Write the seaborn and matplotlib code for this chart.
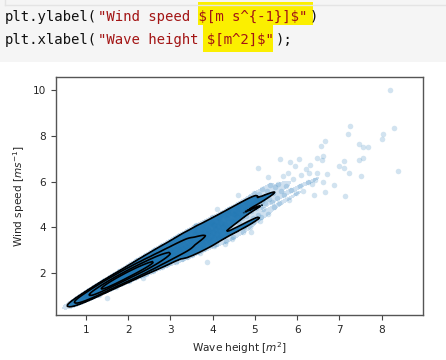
import matplotlib
matplotlib.use("Agg")
import matplotlib.pyplot as plt
from matplotlib.colors import ListedColormap
import seaborn as sns
import numpy as np
import pandas as pd
from matplotlib.patches import Rectangle
from matplotlib.lines import Line2D

# ---- data (wave height [m^2], wind speed [m s^-1]) ----
wave_height = [
    0.85, 0.90, 0.95, 0.98, 1.02, 1.05, 1.08, 1.10, 1.12, 1.15, 1.18, 1.20,
    1.22, 1.25, 1.28, 1.30, 1.32, 1.35, 1.36, 1.38, 1.40, 1.42, 1.44, 1.46, 1.48, 1.50, 1.50, 1.52, 1.54, 1.55, 1.57, 1.58, 1.49, 1.60,
    1.61, 1.62, 1.63, 1.65, 1.66, 1.67, 1.68, 1.70, 1.70, 1.72, 1.73, 1.74, 1.75, 1.76, 1.78, 1.78, 1.80, 1.81, 1.82, 1.84, 1.85, 1.86, 1.87, 1.88, 1.90, 1.90, 1.92, 1.93, 1.95, 1.96, 1.97, 1.98, 2.00,
    2.01, 2.02, 2.03, 2.05, 2.06, 2.07, 2.08, 2.10, 2.10, 2.12, 2.13, 2.14, 2.15, 2.16, 2.18, 2.19, 2.20, 2.21, 2.22, 2.23, 2.25, 2.25, 2.26, 2.28, 2.29, 2.30, 2.31, 2.32, 2.33, 2.35, 2.36, 2.37, 2.38, 2.40, 2.41, 2.42, 2.44, 2.45, 2.46, 2.47, 2.48, 2.49, 2.20, 2.35,
    2.50, 2.51, 2.52, 2.54, 2.55, 2.56, 2.58, 2.59, 2.60, 2.62, 2.63, 2.64, 2.66, 2.67, 2.68, 2.70, 2.71, 2.72, 2.74, 2.75, 2.76, 2.78, 2.79, 2.80, 2.82, 2.83, 2.85, 2.86, 2.88, 2.89, 2.90, 2.92, 2.93, 2.95, 2.97, 2.98, 2.60, 2.90,
    3.00, 3.02, 3.04, 3.05, 3.07, 3.08, 3.10, 3.12, 3.13, 3.15, 3.17, 3.18, 3.20, 3.22, 3.23, 3.25, 3.27, 3.28, 3.30, 3.32, 3.33, 3.35, 3.37, 3.38, 3.40, 3.42, 3.44, 3.45, 3.47, 3.48, 3.10, 3.40,
    3.50, 3.52, 3.54, 3.55, 3.57, 3.60, 3.62, 3.63, 3.65, 3.67, 3.70, 3.72, 3.73, 3.75, 3.77, 3.78, 3.80, 3.82, 3.84, 3.85, 3.87, 3.88, 3.90, 3.92, 3.94, 3.95, 3.97, 3.86, 3.60, 3.70,
    4.00, 4.02, 4.04, 4.06, 4.08, 4.10, 4.12, 4.15, 4.17, 4.20, 4.22, 4.25, 4.27, 4.30, 4.32, 4.35, 4.37, 4.40, 4.42, 4.45, 4.47, 4.30, 4.10, 4.45,
    4.50, 4.53, 4.55, 4.58, 4.60, 4.63, 4.65, 4.68, 4.70, 4.73, 4.75, 4.78, 4.80, 4.83, 4.85, 4.88, 4.90, 4.93, 4.96, 4.98, 4.60, 4.90,
    5.02, 5.05, 5.08, 5.10, 5.13, 5.16, 5.20, 5.22, 5.25, 5.28, 5.30, 5.33, 5.36, 5.40, 5.43, 5.46, 5.48, 5.08, 5.30,
    5.52, 5.55, 5.58, 5.60, 5.62, 5.66, 5.70, 5.74, 5.78, 5.80, 5.83, 5.86, 5.90, 5.95, 5.97,
    6.04, 6.06, 6.10, 6.15, 6.20, 6.25, 6.28, 6.31, 6.35, 6.40, 6.43, 6.47, 6.48,
    6.56, 6.59, 6.62, 6.62, 6.66, 6.67, 6.70, 6.88, 6.98,
    7.12, 7.12, 7.13, 7.21, 7.23, 7.26, 7.47, 7.47,
    7.52, 7.56, 7.57, 7.67, 8.01, 8.03, 8.20, 8.30, 8.38,
]
wind_speed = [
    0.92, 0.98, 0.95, 1.08, 1.00, 1.15, 0.98, 1.20, 1.05, 1.10, 1.25, 1.02,
    1.18, 1.30, 1.22, 1.40, 1.28, 1.35, 1.50, 1.25, 1.42, 1.33, 1.55, 1.40, 1.47, 1.38, 1.60, 1.50, 1.42, 1.68, 1.55, 1.45, 0.91, 1.62,
    1.50, 1.72, 1.62, 1.55, 1.80, 1.66, 1.60, 1.75, 1.68, 1.58, 1.85, 1.72, 1.66, 1.78, 1.70, 1.92, 1.82, 1.65, 1.76, 1.88, 1.80, 1.72, 2.00, 1.84, 1.90, 1.76, 1.95, 1.82, 1.88, 2.05, 1.78, 1.93, 1.98,
    1.85, 2.10, 1.96, 2.02, 1.90, 2.18, 2.05, 1.95, 2.12, 2.00, 2.25, 2.08, 1.92, 2.15, 2.05, 2.30, 2.12, 1.98, 2.20, 2.08, 2.35, 2.15, 2.00, 2.22, 2.12, 2.40, 2.18, 2.05, 2.28, 2.20, 2.45, 2.12, 2.32, 2.25, 2.10, 2.38, 2.28, 2.52, 2.20, 2.35, 2.42, 2.15, 2.60, 1.80,
    2.30, 2.50, 2.40, 2.60, 2.35, 2.48, 2.55, 2.28, 2.68, 2.50, 2.42, 2.62, 2.55, 2.78, 2.45, 2.65, 2.58, 2.38, 2.72, 2.60, 2.85, 2.68, 2.50, 2.75, 2.62, 2.92, 2.70, 2.55, 2.82, 2.68, 3.00, 2.75, 2.60, 2.88, 2.72, 3.08, 3.00, 2.35,
    2.85, 3.05, 2.70, 2.95, 3.15, 2.82, 3.00, 3.25, 2.90, 3.10, 2.75, 3.20, 3.02, 3.35, 2.95, 3.15, 3.40, 3.05, 2.85, 3.28, 3.12, 3.50, 3.20, 2.98, 3.35, 3.10, 3.55, 3.25, 3.00, 3.42, 3.55, 2.70,
    3.30, 3.55, 3.15, 3.40, 3.70, 3.25, 3.50, 3.85, 3.35, 3.60, 3.10, 3.75, 3.45, 3.95, 3.55, 3.30, 3.80, 3.60, 4.05, 3.40, 3.70, 3.95, 3.50, 3.85, 3.25, 4.15, 3.65, 2.50, 4.10, 2.90,
    3.80, 4.10, 3.55, 3.95, 4.30, 3.70, 4.05, 4.45, 3.85, 4.20, 3.60, 4.00, 4.55, 4.15, 3.90, 4.40, 4.70, 4.05, 3.75, 4.30, 4.60, 3.30, 4.80, 3.50,
    4.25, 4.60, 3.95, 4.45, 4.85, 4.20, 4.65, 5.05, 4.40, 4.00, 4.75, 5.20, 4.50, 4.90, 4.25, 5.35, 4.70, 5.00, 4.40, 5.50, 5.40, 3.80,
    4.85, 5.20, 4.55, 5.45, 5.00, 5.70, 4.80, 5.30, 5.05, 5.60, 4.60, 5.25, 5.85, 5.10, 5.50, 4.90, 5.75, 6.61, 6.20,
    5.30, 5.90, 5.05, 6.98, 5.60, 6.25, 5.40, 5.80, 6.40, 5.20, 6.87, 5.65, 6.10, 6.69, 5.50,
    6.98, 5.80, 6.30, 5.60, 6.55, 6.00, 6.39, 6.73, 5.90, 5.42, 6.07, 6.37, 7.02,
    7.56, 6.95, 7.12, 6.00, 5.56, 7.79, 6.34, 5.86, 6.69,
    6.90, 6.59, 5.39, 8.08, 6.39, 8.43, 7.65, 6.95,
    6.25, 7.02, 7.50, 7.50, 7.85, 8.08, 10.00, 8.33, 6.47,
]

# dense core of the cloud (where the points overlap into solid blue)
core_wave_height = [
    1.03, 1.06, 1.09, 1.13, 1.16, 1.19, 1.21, 1.24,
    1.26, 1.27, 1.29, 1.31, 1.33, 1.34, 1.36, 1.37, 1.39, 1.41, 1.42, 1.43, 1.44, 1.45, 1.46, 1.47, 1.48, 1.49, 1.50, 1.50,
    1.51, 1.52, 1.53, 1.54, 1.55, 1.56, 1.57, 1.58, 1.59, 1.60, 1.61, 1.62, 1.63, 1.64, 1.65, 1.66, 1.67, 1.67, 1.68, 1.69, 1.70, 1.71, 1.71, 1.72, 1.73, 1.73, 1.74, 1.74, 1.75, 1.75,
    1.76, 1.77, 1.77, 1.78, 1.79, 1.80, 1.80, 1.81, 1.82, 1.83, 1.83, 1.84, 1.85, 1.86, 1.86, 1.87, 1.88, 1.89, 1.90, 1.90, 1.91, 1.92, 1.93, 1.94, 1.95, 1.95, 1.96, 1.97, 1.98, 1.99,
    2.00, 2.01, 2.02, 2.03, 2.04, 2.05, 2.06, 2.07, 2.08, 2.09, 2.10, 2.11, 2.12, 2.13, 2.14, 2.15, 2.16, 2.17, 2.18, 2.18, 2.19, 2.20, 2.21, 2.21, 2.22, 2.23, 2.23, 2.24, 2.24, 2.25,
    2.26, 2.27, 2.27, 2.28, 2.29, 2.30, 2.31, 2.32, 2.33, 2.34, 2.35, 2.36, 2.37, 2.38, 2.39, 2.40, 2.41, 2.42, 2.43, 2.44, 2.45, 2.46, 2.46, 2.47, 2.48, 2.49, 2.49, 2.50,
    2.51, 2.53, 2.54, 2.56, 2.57, 2.58, 2.60, 2.61, 2.62, 2.63, 2.65, 2.66, 2.67, 2.68, 2.69, 2.70, 2.72, 2.73, 2.74, 2.75,
    2.77, 2.79, 2.80, 2.82, 2.84, 2.87, 2.90, 2.92, 2.95, 2.98,
]
core_wind_speed = [
    1.05, 0.97, 1.12, 1.00, 1.17, 1.08, 1.28, 1.15,
    1.20, 1.33, 1.27, 1.18, 1.36, 1.30, 1.24, 1.41, 1.32, 1.27, 1.45, 1.38, 1.30, 1.48, 1.35, 1.50, 1.42, 1.33, 1.52, 1.44,
    1.40, 1.55, 1.47, 1.60, 1.50, 1.43, 1.62, 1.53, 1.48, 1.68, 1.57, 1.50, 1.70, 1.60, 1.64, 1.52, 1.73, 1.62, 1.56, 1.78, 1.64, 1.70, 1.55, 1.80, 1.66, 1.60, 1.75, 1.68, 1.83, 1.60,
    1.70, 1.86, 1.76, 1.64, 1.80, 1.74, 1.90, 1.78, 1.68, 1.84, 1.95, 1.76, 1.70, 1.88, 1.82, 1.75, 1.96, 1.86, 1.80, 2.02, 1.88, 1.74, 1.92, 1.85, 2.00, 1.80, 1.90, 2.08, 1.86, 1.95,
    2.05, 1.92, 2.00, 2.12, 1.95, 2.06, 2.16, 1.98, 2.10, 1.93, 2.20, 2.05, 2.14, 1.98, 2.22, 2.10, 2.02, 2.18, 2.26, 2.10, 2.00, 2.17, 2.30, 2.08, 2.15, 2.24, 2.02, 2.18, 2.33, 2.10,
    2.20, 2.35, 2.12, 2.28, 2.05, 2.22, 2.40, 2.15, 2.30, 2.24, 2.12, 2.36, 2.28, 2.20, 2.45, 2.32, 2.16, 2.30, 2.42, 2.22, 2.36, 2.50, 2.28, 2.18, 2.40, 2.33, 2.55, 2.25,
    2.42, 2.55, 2.35, 2.62, 2.46, 2.40, 2.58, 2.72, 2.45, 2.55, 2.38, 2.68, 2.60, 2.50, 2.80, 2.58, 2.66, 2.48, 2.76, 2.62,
    2.70, 2.85, 2.60, 2.78, 2.68, 2.90, 2.72, 2.85, 2.65, 2.95,
]

# points along the lower and upper flanks of the cloud
fringe_wave_height = [
    1.31, 1.48, 1.72, 1.88, 2.03, 2.17, 2.42, 2.58, 2.81, 2.97, 3.12, 3.28, 3.52, 3.61, 3.79, 4.02, 4.09, 4.31, 4.48, 4.72, 4.88, 5.11,
    1.19, 1.41, 1.62, 1.79, 2.01, 2.22, 2.39, 2.61, 2.78, 3.02, 3.19, 3.41, 3.58, 3.82, 3.98, 4.21, 4.39, 4.62, 4.79, 5.02, 5.19,
    1.62, 1.84, 2.06, 2.29, 2.56, 2.74, 2.96, 3.14, 3.36, 3.54, 3.76, 3.94, 4.16, 4.34, 4.56, 4.74, 4.96, 5.14,
    1.56, 1.74, 1.96, 2.14, 2.36, 2.54, 2.76, 2.94, 3.16, 3.34, 3.56, 3.74, 3.96, 4.14, 4.36, 4.54, 4.76, 4.94, 5.16,
]
fringe_wind_speed = [
    1.05, 1.25, 1.42, 1.60, 1.68, 1.82, 1.98, 2.12, 2.28, 2.45, 2.50, 2.62, 2.80, 2.92, 3.05, 3.20, 3.30, 3.42, 3.60, 3.80, 4.00, 4.30,
    1.42, 1.65, 1.88, 2.10, 2.32, 2.52, 2.75, 2.95, 3.20, 3.42, 3.62, 3.85, 4.05, 4.25, 4.45, 4.62, 4.80, 4.95, 5.10, 5.20, 5.30,
    1.45, 1.65, 1.80, 1.98, 2.22, 2.40, 2.55, 2.72, 2.90, 3.05, 3.20, 3.38, 3.55, 3.70, 3.88, 4.05, 4.25, 4.45,
    1.72, 1.95, 2.18, 2.38, 2.58, 2.80, 3.02, 3.22, 3.42, 3.62, 3.85, 4.05, 4.25, 4.40, 4.58, 4.75, 4.92, 5.05, 5.15,
]

x_ticks = [1, 2, 3, 4, 5, 6, 7, 8]
y_ticks = [2, 4, 6, 8, 10]

df = pd.DataFrame({"wave": wave_height + core_wave_height + fringe_wave_height,
                   "wind": wind_speed + core_wind_speed + fringe_wind_speed})

W, H = 446, 360
fig = plt.figure(figsize=(W / 100, H / 100), dpi=100)
fig.patch.set_facecolor("white")

# ---- notebook code cell header ----
fig.patches.append(Rectangle((0, 1 - 62 / H), 1, 62 / H, transform=fig.transFigure,
                             facecolor="#f5f5f5", edgecolor="none", zorder=0))
fig.lines.append(Line2D([5 / W, 1], [1 - 5 / H, 1 - 5 / H], transform=fig.transFigure,
                        color="#e4e4e4", lw=1))
fig.lines.append(Line2D([5 / W, 5 / W], [1, 1 - 5 / H], transform=fig.transFigure,
                        color="#e4e4e4", lw=1))
fig.patches.append(Rectangle((198 / W, 1 - 25 / H), 115 / W, 23.5 / H, transform=fig.transFigure,
                             facecolor="#fbef00", edgecolor="none", zorder=1))
fig.patches.append(Rectangle((203 / W, 1 - 52 / H), 70 / W, 27 / H, transform=fig.transFigure,
                             facecolor="#fbef00", edgecolor="none", zorder=1))

cw = 8.47
mono = dict(family="DejaVu Sans Mono", fontsize=10.1, va="center", ha="left", parse_math=False)
def code(line_y, segments):
    i = 0
    for txt, col in segments:
        fig.text((5 + i * cw) / W, 1 - line_y / H, txt, color=col, **mono)
        i += len(txt)

red = "#a31515"
code(17, [("plt.ylabel(", "#111111"), ('"Wind speed $[m s^{-1}]$"', red), (")", "#111111")])
code(40, [("plt.xlabel(", "#111111"), ('"Wave height $[m^2]$"', red), (");", "#111111")])

# ---- chart ----
ax = fig.add_axes([56 / W, 45 / H, 367 / W, 238 / H])
blue = "#1f77b4"
bw = 0.62
outer = 0.2

sns.kdeplot(data=df, x="wave", y="wind", ax=ax, fill=True, levels=[0.12, outer],
            cmap=ListedColormap(["#bcd5ea"]), alpha=0.7, bw_adjust=bw)
sns.kdeplot(data=df, x="wave", y="wind", ax=ax, fill=True, levels=[outer, 1.0],
            cmap=ListedColormap([blue]), alpha=0.95, bw_adjust=bw)
sns.scatterplot(data=df, x="wave", y="wind", ax=ax, s=16, alpha=0.2, color=blue,
                linewidth=0)
sns.kdeplot(data=df, x="wave", y="wind", ax=ax, levels=[outer, 0.4, 0.6, 0.8],
            color="black", linewidths=1.2, bw_adjust=bw)

ax.set_xlim(0.29, 8.98)
ax.set_ylim(0.18, 10.57)
ax.set_xticks(x_ticks)
ax.set_yticks(y_ticks)
ax.set_xlabel("Wave height $[m^2]$", fontsize=7.6, color="#262626", labelpad=4)
ax.set_ylabel("Wind speed $[m s^{-1}]$", fontsize=7.6, color="#262626", labelpad=4)
ax.tick_params(labelsize=7.6, labelcolor="#262626", color="#444444", length=3.5, width=0.8)
for sp in ax.spines.values():
    sp.set_color("#555555")
    sp.set_linewidth(1.0)

fig.savefig("out.png", dpi=100, facecolor="white")
